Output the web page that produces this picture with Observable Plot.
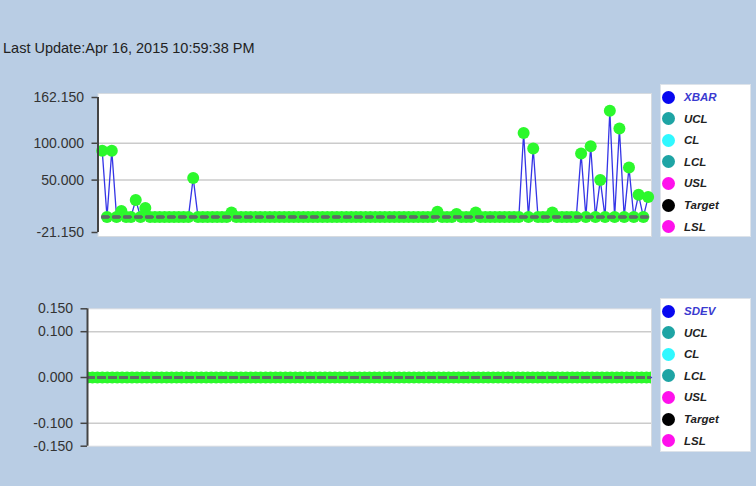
<!DOCTYPE html>
<html>
<head>
<meta charset="utf-8">
<script src="https://cdn.jsdelivr.net/npm/d3@7"></script>
<script src="https://cdn.jsdelivr.net/npm/@observablehq/plot@0.6"></script>
<style>
  html, body { margin: 0; padding: 0; }
  body { width: 756px; height: 486px; background: #b9cde4; position: relative; overflow: hidden;
         font-family: "Liberation Sans", Arial, sans-serif; }
  #title { position: absolute; left: 3px; top: 40px; font-size: 14.5px; color: #222; white-space: nowrap; }
  .chart { position: absolute; left: 0; }
  .legend { position: absolute; left: 660px; width: 91px; background: #fff; border: 1px solid #dde3ea; box-sizing: border-box; }
  .item { position: absolute; left: 0; height: 14px; display: flex; align-items: center; }
  .sw { width: 13px; height: 13px; border-radius: 50%; margin-left: 1px; }
  .lab { margin-left: 9px; font-weight: bold; font-style: italic; font-size: 11.5px; color: #222; }
</style>
</head>
<body>
<div id="title"></div>
<div id="top" class="chart" style="top:0px"></div>
<div id="bottom" class="chart" style="top:260px"></div>
<div id="legTop" class="legend" style="top:84px; height:153px"></div>
<div id="legBottom" class="legend" style="top:298px; height:154px"></div>
<script>
// ---------- data ----------
const titleText = "Last Update:Apr 16, 2015 10:59:38 PM";

// XBAR subgroup means, one per sample (115 samples)
const xbarPeaks = [
  [0, 90], [2, 90], [4, 8], [7, 23], [9, 12], [19, 53], [27, 6],
  [70, 7], [74, 4], [78, 6], [88, 114], [90, 93], [94, 6],
  [100, 86], [102, 96], [104, 50], [106, 144], [108, 120],
  [110, 67], [112, 30], [114, 27]
];
const sampleCount = 115;
const xbarValues = Array.from({length: sampleCount}, () => 0);
for (const [i, v] of xbarPeaks) xbarValues[i] = v;
const sdevValues = Array.from({length: sampleCount}, () => 0);

// control / spec lines (all at zero in this snapshot)
const limitNames = ["UCL", "CL", "LCL", "USL", "Target", "LSL"];
const xbarLimits = [0, 0, 0, 0, 0, 0];
const sdevLimits = [0, 0, 0, 0, 0, 0];

const xbarTicks = [162.15, 100, 50, -21.15];
const xbarGrid = [100, 50];
const sdevTicks = [0.15, 0.1, 0, -0.1, -0.15];
const sdevGrid = [0.1, -0.1];

const legendTop = ["XBAR", "UCL", "CL", "LCL", "USL", "Target", "LSL"];
const legendBottom = ["SDEV", "UCL", "CL", "LCL", "USL", "Target", "LSL"];
const legendColors = ["#0808f0", "#1ea4a4", "#30f8ff", "#1ea4a4", "#ff10ec", "#000000", "#ff10ec"];

// ---------- build ----------
document.getElementById("title").textContent = titleText;

const samples = d3.range(sampleCount);
const xbarData = samples.map(i => ({i, v: xbarValues[i]}));
const sdevData = samples.map(i => ({i, v: sdevValues[i]}));
const limitRows = (limits) => limitNames.flatMap((name, k) => samples.map(i => ({name, i, v: limits[k]})));

const green = "#2cf82c";
const f3 = d3.format(".3f");
const fmt = v => f3(v).replace("\u2212", "-");
const style = {fontFamily: "'Liberation Sans', Arial, sans-serif", fontSize: "14px", color: "#333", background: "transparent", overflow: "visible"};

const topDomainX = [-0.88, 114.7];
const topPlot = Plot.plot({
  width: 756, height: 260,
  marginLeft: 97.5, marginRight: 105, marginTop: 97, marginBottom: 28,
  style,
  x: {domain: topDomainX, axis: null},
  y: {domain: [xbarTicks[3], xbarTicks[0]], axis: null},
  marks: [
    Plot.frame({fill: "#fff", stroke: "#d6dbe0", insetTop: -4, insetBottom: -4, insetRight: 0}),
    Plot.ruleY(xbarGrid, {stroke: "#cbcbcb", strokeWidth: 1.5}),
    Plot.line(xbarData, {x: "i", y: "v", stroke: "#3535e6", strokeWidth: 1.3}),
    Plot.dot(xbarData, {x: "i", y: "v", r: 6, fill: green, stroke: null}),
    Plot.line(limitRows(xbarLimits), {x: "i", y: "v", z: "name", stroke: "#5f6868", strokeWidth: 2.5, strokeDasharray: "6,5"}),
    Plot.ruleX([topDomainX[0]], {stroke: "#444", strokeWidth: 2}),
    Plot.axisY({ticks: xbarTicks, tickFormat: fmt, tickSize: 6, tickPadding: 8, fontSize: 14, label: null, stroke: "#444", strokeWidth: 1.5})
  ]
});
document.getElementById("top").appendChild(topPlot);

const botDomainX = [0, 114];
const bottomPlot = Plot.plot({
  width: 756, height: 226,
  marginLeft: 87, marginRight: 105, marginTop: 48.3, marginBottom: 40.3,
  style,
  x: {domain: botDomainX, axis: null},
  y: {domain: [sdevTicks[4], sdevTicks[0]], axis: null},
  marks: [
    Plot.frame({fill: "#fff", stroke: "#d6dbe0"}),
    Plot.ruleY(sdevGrid, {stroke: "#cbcbcb", strokeWidth: 1.5}),
    Plot.line(sdevData, {x: "i", y: "v", stroke: "#3535e6", strokeWidth: 1.3}),
    Plot.dot(sdevData, {x: "i", y: "v", r: 6, fill: green, stroke: null, clip: true}),
    Plot.line(limitRows(sdevLimits), {x: "i", y: "v", z: "name", stroke: "#5f6868", strokeWidth: 2.5, strokeDasharray: "6,5", clip: true}),
    Plot.ruleX([botDomainX[0]], {stroke: "#444", strokeWidth: 2}),
    Plot.axisY({ticks: sdevTicks, tickFormat: fmt, tickSize: 6.5, tickPadding: 8, fontSize: 14, label: null, stroke: "#444", strokeWidth: 1.5})
  ]
});
document.getElementById("bottom").appendChild(bottomPlot);

function buildLegend(el, labels) {
  labels.forEach((lab, k) => {
    const item = document.createElement("div");
    item.className = "item";
    item.style.top = (5 + k * 21.6) + "px";
    const sw = document.createElement("div");
    sw.className = "sw";
    sw.style.background = legendColors[k];
    const t = document.createElement("span");
    t.className = "lab";
    t.textContent = lab;
    if (k === 0) t.style.color = "#3a3ad0";
    item.appendChild(sw); item.appendChild(t);
    el.appendChild(item);
  });
}
buildLegend(document.getElementById("legTop"), legendTop);
buildLegend(document.getElementById("legBottom"), legendBottom);
</script>
</body>
</html>
